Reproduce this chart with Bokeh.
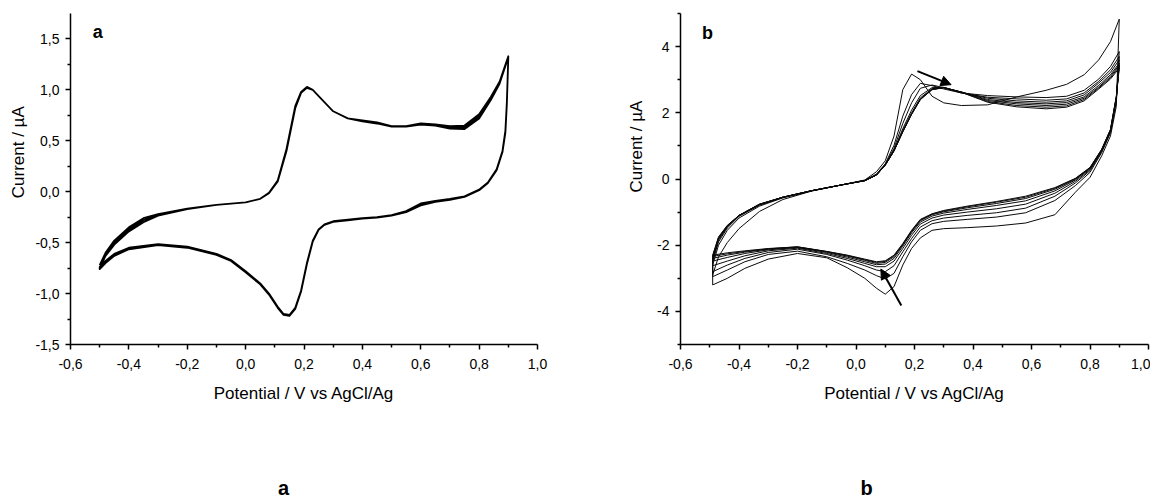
import math
from bokeh.plotting import figure
from bokeh.layouts import row, column
from bokeh.models import (Range1d, FixedTicker, CustomJSTickFormatter, Label,
                          Arrow, NormalHead)
from bokeh.embed import file_html
from bokeh.resources import INLINE

FONT = "Liberation Sans"

# ---------------- tick labels ----------------
x_ticks = [-0.6, -0.4, -0.2, 0.0, 0.2, 0.4, 0.6, 0.8, 1.0]
x_tick_labels = ["-0,6", "-0,4", "-0,2", "0,0", "0,2", "0,4", "0,6", "0,8", "1,0"]
x_minor = [-0.5, -0.3, -0.1, 0.1, 0.3, 0.5, 0.7, 0.9]
a_y_ticks = [-1.5, -1.0, -0.5, 0.0, 0.5, 1.0, 1.5]
a_y_tick_labels = ["-1,5", "-1,0", "-0,5", "0,0", "0,5", "1,0", "1,5"]
a_y_minor = [-1.25, -0.75, -0.25, 0.25, 0.75, 1.25]
b_y_ticks = [-4, -2, 0, 2, 4]
b_y_tick_labels = ["-4", "-2", "0", "2", "4"]
b_y_minor = [-5, -3, -1, 1, 3, 5]

x_title = "Potential / V vs AgCl/Ag"
y_title = "Current / µA"

# ---------------- panel a: 3 cycles ----------------
a_fwd_x = [-0.50, -0.48, -0.45, -0.40, -0.35, -0.30, -0.20, -0.10, 0.00, 0.05, 0.08,
           0.11, 0.14, 0.17, 0.19, 0.21, 0.23, 0.26, 0.30, 0.35, 0.40, 0.45, 0.50,
           0.55, 0.60, 0.65, 0.70, 0.75, 0.80, 0.84, 0.87, 0.90]
a_rev_x = [0.90, 0.895, 0.89, 0.88, 0.86, 0.83, 0.80, 0.75, 0.70, 0.65, 0.60, 0.55,
           0.50, 0.45, 0.40, 0.35, 0.30, 0.27, 0.25, 0.23, 0.21, 0.19, 0.17, 0.15,
           0.13, 0.11, 0.08, 0.05, 0.00, -0.05, -0.10, -0.20, -0.30, -0.40, -0.45,
           -0.48, -0.50]
a_c1_fwd = [-0.72, -0.60, -0.48, -0.35, -0.26, -0.22, -0.165, -0.13, -0.105, -0.07, -0.01,
            0.11, 0.42, 0.84, 0.98, 1.03, 1.00, 0.91, 0.79, 0.72, 0.70, 0.68, 0.645,
            0.645, 0.67, 0.66, 0.645, 0.65, 0.76, 0.93, 1.08, 1.33]
a_c2_fwd = [-0.75, -0.63, -0.52, -0.39, -0.30, -0.235, -0.17, -0.13, -0.105, -0.07, -0.015,
            0.10, 0.40, 0.82, 0.97, 1.02, 1.00, 0.91, 0.79, 0.72, 0.69, 0.67, 0.64,
            0.64, 0.66, 0.65, 0.62, 0.615, 0.72, 0.90, 1.06, 1.32]
a_c3_fwd = [-0.74, -0.62, -0.50, -0.37, -0.28, -0.225, -0.17, -0.13, -0.105, -0.07, -0.012,
            0.105, 0.41, 0.83, 0.975, 1.025, 1.00, 0.91, 0.79, 0.72, 0.695, 0.675, 0.64,
            0.64, 0.665, 0.655, 0.63, 0.63, 0.74, 0.91, 1.07, 1.33]
a_c1_rev = [1.33, 0.88, 0.60, 0.40, 0.22, 0.09, 0.02, -0.045, -0.07, -0.09, -0.115, -0.19,
            -0.23, -0.25, -0.26, -0.275, -0.29, -0.32, -0.37, -0.48, -0.70, -0.97, -1.14,
            -1.21, -1.20, -1.13, -1.00, -0.90, -0.78, -0.67, -0.61, -0.54, -0.515, -0.55,
            -0.61, -0.68, -0.74]
a_c2_rev = [1.32, 0.86, 0.58, 0.39, 0.21, 0.085, 0.015, -0.05, -0.08, -0.10, -0.135, -0.20,
            -0.235, -0.255, -0.265, -0.28, -0.295, -0.325, -0.375, -0.49, -0.71, -0.98, -1.15,
            -1.22, -1.21, -1.14, -1.01, -0.91, -0.79, -0.68, -0.62, -0.55, -0.525, -0.565,
            -0.63, -0.70, -0.76]
a_c3_rev = [1.33, 0.87, 0.59, 0.395, 0.215, 0.088, 0.018, -0.047, -0.075, -0.095, -0.125, -0.195,
            -0.232, -0.252, -0.262, -0.277, -0.292, -0.322, -0.372, -0.485, -0.705, -0.975, -1.145,
            -1.215, -1.205, -1.135, -1.005, -0.905, -0.785, -0.675, -0.615, -0.545, -0.52, -0.56,
            -0.62, -0.69, -0.75]
a_cycles = [(a_c1_fwd, a_c1_rev), (a_c2_fwd, a_c2_rev), (a_c3_fwd, a_c3_rev)]

# ---------------- panel b: 8 cycles ----------------
b_fwd_x = [-0.49, -0.47, -0.44, -0.40, -0.33, -0.25, -0.15, -0.05, 0.03, 0.07, 0.10, 0.13,
           0.16, 0.19, 0.22, 0.26, 0.30, 0.36, 0.45, 0.55, 0.65, 0.72, 0.78, 0.83, 0.87, 0.90]
b_rev_x = [0.90, 0.89, 0.87, 0.84, 0.80, 0.75, 0.68, 0.58, 0.48, 0.38, 0.30, 0.26, 0.22,
           0.19, 0.16, 0.13, 0.10, 0.07, 0.03, -0.03, -0.10, -0.20, -0.30, -0.38, -0.44, -0.49]
b_c1_fwd = [-2.90, -2.35, -1.92, -1.50, -0.98, -0.62, -0.36, -0.18, -0.03, 0.22, 0.55, 1.30,
            2.70, 3.17, 3.00, 2.50, 2.30, 2.22, 2.24, 2.48, 2.68, 2.86, 3.15, 3.60, 4.15, 4.83]
b_c2_fwd = [-2.60, -2.00, -1.55, -1.18, -0.82, -0.57, -0.36, -0.18, -0.04, 0.15, 0.46, 1.02,
            1.90, 2.55, 2.89, 2.82, 2.72, 2.60, 2.52, 2.48, 2.46, 2.50, 2.68, 3.02, 3.40, 3.85]
b_c3_fwd = [-2.50, -1.90, -1.48, -1.13, -0.79, -0.56, -0.35, -0.18, -0.05, 0.13, 0.44, 0.93,
            1.68, 2.30, 2.74, 2.84, 2.76, 2.60, 2.47, 2.42, 2.38, 2.42, 2.60, 2.95, 3.30, 3.70]
b_c4_fwd = [-2.45, -1.85, -1.45, -1.11, -0.78, -0.55, -0.35, -0.18, -0.05, 0.12, 0.43, 0.88,
            1.52, 2.08, 2.52, 2.76, 2.77, 2.62, 2.44, 2.36, 2.32, 2.36, 2.54, 2.90, 3.22, 3.60]
b_c5_fwd = [-2.40, -1.82, -1.43, -1.10, -0.77, -0.55, -0.35, -0.18, -0.05, 0.12, 0.42, 0.86,
            1.46, 2.00, 2.45, 2.73, 2.76, 2.63, 2.40, 2.31, 2.27, 2.31, 2.48, 2.83, 3.15, 3.50]
b_c6_fwd = [-2.36, -1.79, -1.42, -1.10, -0.77, -0.55, -0.35, -0.18, -0.05, 0.12, 0.42, 0.85,
            1.44, 1.97, 2.42, 2.71, 2.76, 2.63, 2.37, 2.27, 2.22, 2.26, 2.44, 2.78, 3.10, 3.45]
b_c7_fwd = [-2.33, -1.77, -1.41, -1.10, -0.76, -0.55, -0.35, -0.18, -0.05, 0.12, 0.42, 0.85,
            1.43, 1.95, 2.40, 2.70, 2.76, 2.62, 2.34, 2.22, 2.17, 2.21, 2.40, 2.75, 3.06, 3.40]
b_c8_fwd = [-2.30, -1.75, -1.40, -1.10, -0.76, -0.55, -0.35, -0.18, -0.05, 0.12, 0.42, 0.85,
            1.42, 1.95, 2.40, 2.70, 2.76, 2.62, 2.32, 2.18, 2.12, 2.17, 2.36, 2.72, 3.02, 3.35]
b_c1_rev = [4.83, 2.20, 1.30, 0.70, 0.05, -0.40, -1.08, -1.33, -1.42, -1.47, -1.50, -1.55, -1.78,
            -2.10, -2.60, -3.25, -3.48, -3.30, -3.00, -2.68, -2.38, -2.25, -2.42, -2.70, -3.00, -3.20]
b_c2_rev = [3.85, 2.35, 1.40, 0.80, 0.20, -0.20, -0.65, -1.02, -1.15, -1.22, -1.28, -1.35, -1.55,
            -1.90, -2.35, -2.85, -3.02, -2.92, -2.75, -2.55, -2.35, -2.18, -2.28, -2.50, -2.75, -2.95]
b_c3_rev = [3.70, 2.40, 1.42, 0.83, 0.25, -0.12, -0.52, -0.88, -1.02, -1.10, -1.18, -1.26, -1.45,
            -1.80, -2.20, -2.62, -2.80, -2.75, -2.62, -2.45, -2.28, -2.12, -2.22, -2.40, -2.60, -2.80]
b_c4_rev = [3.60, 2.42, 1.45, 0.85, 0.28, -0.07, -0.43, -0.76, -0.90, -1.00, -1.09, -1.18, -1.36,
            -1.70, -2.10, -2.48, -2.65, -2.65, -2.55, -2.40, -2.25, -2.09, -2.17, -2.32, -2.48, -2.62]
b_c5_rev = [3.50, 2.45, 1.47, 0.87, 0.31, -0.03, -0.36, -0.66, -0.80, -0.92, -1.03, -1.12, -1.30,
            -1.63, -2.03, -2.40, -2.57, -2.59, -2.50, -2.36, -2.22, -2.07, -2.14, -2.25, -2.37, -2.48]
b_c6_rev = [3.45, 2.47, 1.48, 0.88, 0.33, -0.01, -0.31, -0.59, -0.74, -0.87, -0.99, -1.08, -1.26,
            -1.59, -1.99, -2.35, -2.52, -2.55, -2.46, -2.33, -2.20, -2.06, -2.12, -2.21, -2.30, -2.40]
b_c7_rev = [3.40, 2.48, 1.49, 0.89, 0.34, 0.01, -0.28, -0.55, -0.70, -0.84, -0.97, -1.06, -1.24,
            -1.57, -1.97, -2.32, -2.49, -2.52, -2.44, -2.31, -2.19, -2.05, -2.11, -2.19, -2.26, -2.34]
b_c8_rev = [3.35, 2.50, 1.50, 0.90, 0.35, 0.02, -0.26, -0.52, -0.68, -0.82, -0.95, -1.05, -1.22,
            -1.55, -1.95, -2.30, -2.47, -2.50, -2.42, -2.30, -2.19, -2.05, -2.10, -2.17, -2.23, -2.30]
b_cycles = [(b_c1_fwd, b_c1_rev), (b_c2_fwd, b_c2_rev), (b_c3_fwd, b_c3_rev),
            (b_c4_fwd, b_c4_rev), (b_c5_fwd, b_c5_rev), (b_c6_fwd, b_c6_rev),
            (b_c7_fwd, b_c7_rev), (b_c8_fwd, b_c8_rev)]

# arrows in panel b (data coordinates: tail -> head)
b_arrows = [((0.21, 3.26), (0.325, 2.85)), ((0.155, -3.82), (0.085, -2.72))]


def fmt(vals, labs):
    return CustomJSTickFormatter(args=dict(vals=vals, labs=labs), code="""
        let k = -1;
        for (let j = 0; j < vals.length; j++) {
            if (Math.abs(vals[j] - tick) < 1e-6) { k = j; }
        }
        return k >= 0 ? labs[k] : '';
    """)


def make_panel(width, bl, br, yr, yt, ytl, ymin):
    p = figure(width=width, height=470, output_backend="svg", toolbar_location=None,
               x_range=Range1d(-0.6, 1.0), y_range=Range1d(*yr),
               min_border_left=bl, min_border_right=br, min_border_top=13,
               min_border_bottom=126)
    p.outline_line_color = None
    p.xgrid.visible = False
    p.ygrid.visible = False
    p.background_fill_color = "white"
    p.border_fill_color = "white"
    p.xaxis.axis_label = x_title
    for ax, t, tl, mn, std in ((p.xaxis[0], x_ticks, x_tick_labels, x_minor, 9),
                               (p.yaxis[0], yt, ytl, ymin, 6)):
        ax.ticker = FixedTicker(ticks=t, minor_ticks=mn)
        ax.formatter = fmt(t, tl)
        ax.axis_line_width = 1.5
        ax.axis_line_color = "black"
        ax.major_tick_line_width = 1.5
        ax.minor_tick_line_width = 1.5
        ax.major_tick_line_color = "black"
        ax.minor_tick_line_color = "black"
        ax.major_tick_in = 0
        ax.major_tick_out = 5
        ax.minor_tick_in = 0
        ax.minor_tick_out = 3
        ax.major_label_standoff = std
        ax.major_label_text_font = FONT
        ax.major_label_text_font_size = "14px"
        ax.major_label_text_color = "black"
        ax.axis_label_text_font = FONT
        ax.axis_label_text_font_size = "17px"
        ax.axis_label_text_font_style = "normal"
        ax.axis_label_text_color = "black"
        ax.axis_label_standoff = 12
    return p


def lbl(p, x, y, text, size, bold=True, angle=0.0):
    p.add_layout(Label(x=x, y=y, text=text, text_font=FONT, text_font_size=size,
                       text_font_style="bold" if bold else "normal",
                       text_align="center", text_baseline="middle",
                       text_color="black", angle=angle))


def blank(width, height):
    c = figure(width=width, height=height, output_backend="svg", toolbar_location=None,
               x_range=Range1d(0, width), y_range=Range1d(0, height),
               x_axis_location=None, y_axis_location=None, min_border=0)
    c.outline_line_color = None
    c.xgrid.visible = False
    c.ygrid.visible = False
    return c


# y-axis titles (own narrow strips so the title can sit where the reference has it)
ta = blank(30, 470)
lbl(ta, 18, 470 - 197, y_title, "17px", bold=False, angle=math.pi / 2)
tb = blank(60, 470)
lbl(tb, 48, 470 - 189, y_title, "17px", bold=False, angle=math.pi / 2)

# ---------------- panel a ----------------
pa = make_panel(558, 40, 51, (-1.5, 1.75), a_y_ticks, a_y_tick_labels, a_y_minor)
ax_all, ay_all = [], []
for fwd, rev in a_cycles:
    ax_all += a_fwd_x + a_rev_x
    ay_all += fwd + rev
pa.line(ax_all, ay_all, line_color="black", line_width=1.8, line_join="round")
lbl(pa, -0.507, 1.573, "a", "18px")

# ---------------- panel b ----------------
pb = make_panel(502, 32, 2, (-5, 5), b_y_ticks, b_y_tick_labels, b_y_minor)
bx_all, by_all = [], []
for fwd, rev in b_cycles:
    bx_all += b_fwd_x + b_rev_x
    by_all += fwd + rev
pb.line(bx_all, by_all, line_color="#0a0a0a", line_width=1.0, line_join="round")
for (x0, y0), (x1, y1) in b_arrows:
    pb.add_layout(Arrow(x_start=x0, y_start=y0, x_end=x1, y_end=y1, line_width=2,
                        line_color="black",
                        end=NormalHead(size=10, fill_color="black", line_color="black")))
lbl(pb, -0.508, 4.40, "b", "18px")

# captions under the panels
ca = blank(588, 30)
lbl(ca, 283, 13, "a", "20px")
cb = blank(562, 30)
lbl(cb, 278, 13, "b", "20px")

layout = column(row(ta, pa, tb, pb), row(ca, cb))
open("out.html", "w").write(file_html(layout, INLINE))
